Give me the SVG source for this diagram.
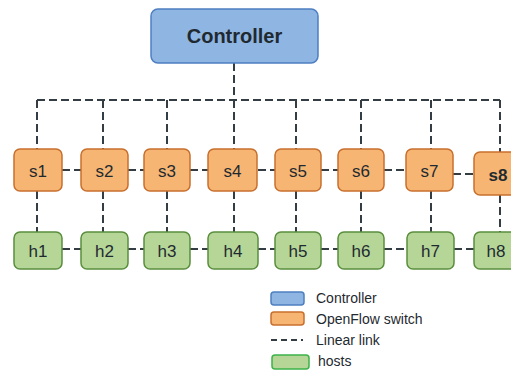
<svg xmlns="http://www.w3.org/2000/svg" width="511" height="371" viewBox="0 0 511 371">
<style>
.ctrl{fill:#8fb5e3;stroke:#4d7fc1;stroke-width:1.5}
.sw{fill:#f6b573;stroke:#c96f2e;stroke-width:1.5}
.host{fill:#b6d698;stroke:#5a8e3d;stroke-width:1.5}
.link{fill:none;stroke:#343c44;stroke-width:2;stroke-dasharray:8 4}
.lbl{font-family:"Liberation Sans",Arial,sans-serif;font-size:17px;fill:#1f2a30;text-anchor:middle}
.leg{font-family:"Liberation Sans",Arial,sans-serif;font-size:14px;fill:#1f2a30}
</style>
<rect width="511" height="371" fill="#ffffff"/>
<g id="connectors">
<path class="link" d="M234 63V100M37 100H500M37 100V149M103 100V149M167 100V149M234 100V149M296 100V149M361 100V149M431 100V149M500 100V152"/>
<path class="link" d="M62 170H81M128 170H144M190 170H208M258 170H275M321 170H338M384 170H406M453 174H474"/>
<path class="link" d="M37 191V232M103 191V232M167 191V232M234 191V232M296 191V232M361 191V232M431 191V232M500 195V232"/>
<path class="link" d="M62 249H81M128 249H144M190 249H208M258 249H275M321 249H338M384 249H407M454 249H474"/>
</g>
<g id="controller"><rect class="ctrl" x="151" y="9" width="167" height="54" rx="7"/><text class="lbl" x="234.5" y="43" style="font-size:20px;font-weight:bold">Controller</text></g>
<g id="s1"><rect class="sw" x="14" y="149" width="48" height="42" rx="6"/><text class="lbl" x="38" y="176.5">s1</text></g>
<g id="s2"><rect class="sw" x="81" y="149" width="47" height="42" rx="6"/><text class="lbl" x="104.5" y="176.5">s2</text></g>
<g id="s3"><rect class="sw" x="144" y="149" width="46" height="42" rx="6"/><text class="lbl" x="167" y="176.5">s3</text></g>
<g id="s4"><rect class="sw" x="208" y="149" width="49" height="42" rx="6"/><text class="lbl" x="232.5" y="176.5">s4</text></g>
<g id="s5"><rect class="sw" x="275" y="149" width="46" height="42" rx="6"/><text class="lbl" x="298" y="176.5">s5</text></g>
<g id="s6"><rect class="sw" x="338" y="149" width="46" height="42" rx="6"/><text class="lbl" x="361" y="176.5">s6</text></g>
<g id="s7"><rect class="sw" x="406" y="149" width="47" height="42" rx="6"/><text class="lbl" x="429.5" y="176.5">s7</text></g>
<g id="s8"><rect class="sw" x="474" y="152" width="48" height="43" rx="6"/><text class="lbl" x="498" y="180.5" style="font-weight:bold">s8</text></g>
<g id="h1"><rect class="host" x="14" y="232" width="48" height="37" rx="6"/><text class="lbl" x="38" y="256.5">h1</text></g>
<g id="h2"><rect class="host" x="81" y="232" width="47" height="37" rx="6"/><text class="lbl" x="104.5" y="256.5">h2</text></g>
<g id="h3"><rect class="host" x="144" y="232" width="46" height="37" rx="6"/><text class="lbl" x="167" y="256.5">h3</text></g>
<g id="h4"><rect class="host" x="208" y="232" width="50" height="37" rx="6"/><text class="lbl" x="233" y="256.5">h4</text></g>
<g id="h5"><rect class="host" x="275" y="232" width="46" height="37" rx="6"/><text class="lbl" x="298" y="256.5">h5</text></g>
<g id="h6"><rect class="host" x="338" y="232" width="46" height="37" rx="6"/><text class="lbl" x="361" y="256.5">h6</text></g>
<g id="h7"><rect class="host" x="407" y="232" width="47" height="37" rx="6"/><text class="lbl" x="430.5" y="256.5">h7</text></g>
<g id="h8"><rect class="host" x="474" y="232" width="48" height="37" rx="6"/><text class="lbl" x="496" y="256.5">h8</text></g>
<g id="legend">
<rect class="ctrl" x="271" y="292" width="33" height="13" rx="3"/><text class="leg" x="316" y="303">Controller</text>
<rect class="sw" x="271" y="312" width="33" height="13" rx="3"/><text class="leg" x="316" y="324">OpenFlow switch</text>
<path class="link" d="M271 340H303" style="stroke-dasharray:6 4"/><text class="leg" x="316" y="345">Linear link</text>
<rect class="host" x="272" y="355" width="37" height="14" rx="3" style="stroke:#3db34a"/><text class="leg" x="318" y="366">hosts</text>
</g>
</svg>
